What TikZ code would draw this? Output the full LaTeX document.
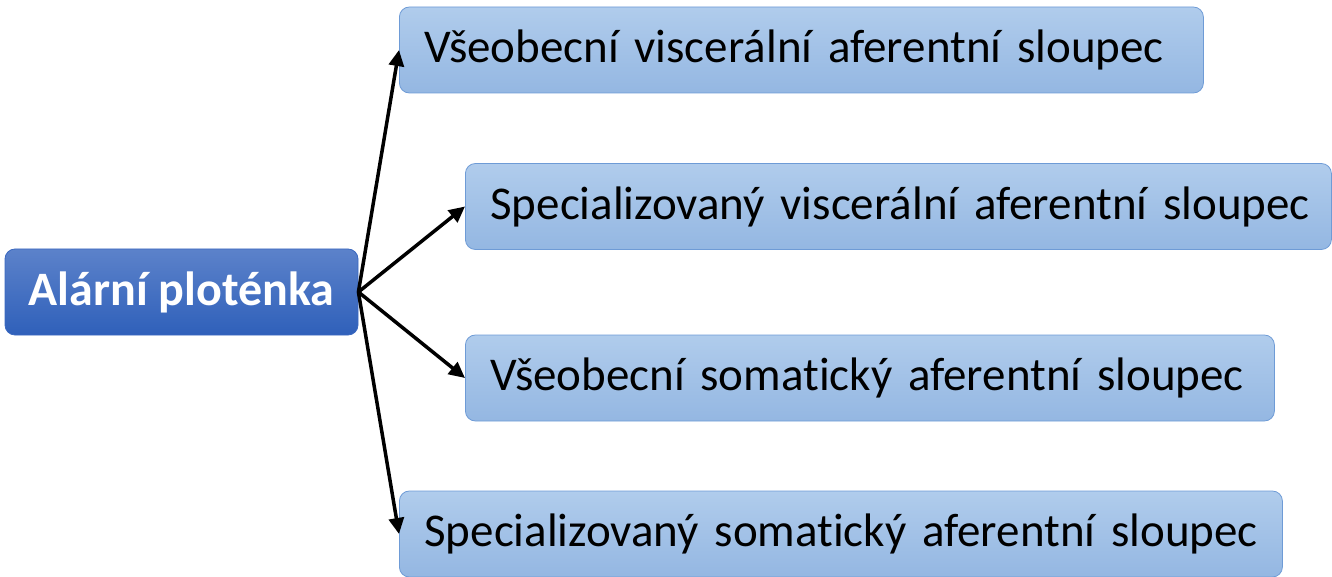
\documentclass[tikz,border=0pt]{standalone}
\usepackage{fontspec}
\setmainfont{Carlito}[Ligatures=NoCommon]
\usetikzlibrary{arrows.meta}
\definecolor{darkblue}{HTML}{3A68C0}
\definecolor{darkbluetop}{HTML}{5C82CA}
\definecolor{darkbluebot}{HTML}{2F60BA}
\definecolor{lightbluetop}{HTML}{B0CCEC}
\definecolor{lightbluebot}{HTML}{94B7E2}
\definecolor{lightblueline}{HTML}{6E9BD6}
\begin{document}
\begin{tikzpicture}[x=1pt,y=-1pt] % 1 unit = 1 px of the picture
\tikzstyle{plate} = [rounded corners=10pt, top color=darkbluetop, bottom color=darkbluebot, draw=darkblue, line width=0.8pt, minimum width=353pt, minimum height=86pt, text=white, font=\fontsize{48}{56}\selectfont\bfseries] % main node style
\tikzstyle{column} = [rounded corners=10pt, top color=lightbluetop, bottom color=lightbluebot, draw=lightblueline, line width=0.8pt, minimum height=86pt, inner xsep=25pt, align=left, anchor=west, font=\fontsize{47}{55}\selectfont] % column node style
\tikzstyle{branch} = [line width=3.5pt, -{Triangle[length=16pt,width=15pt]}] % arrow style
\useasboundingbox (0,0) rectangle (1332,577);
\node[plate] (alar) at (181.5,292) {Alární ploténka};
\node[column, text width=754pt] (gva) at (399,50) {\mbox{Všeobecní viscerální aferentní sloupec}};
\node[column, text width=816pt] (sva) at (465,206.5) {\mbox{Specializovaný viscerální aferentní sloupec}};
\node[column, text width=759pt] (gsa) at (465,378) {\mbox{Všeobecní somatický aferentní sloupec}};
\node[column, text width=833pt] (ssa) at (399,534) {\mbox{Specializovaný somatický aferentní sloupec}};
\foreach \col in {gva,sva,gsa,ssa}
    \draw[branch] (alar.east) -- (\col.west);
\end{tikzpicture}
\end{document}
